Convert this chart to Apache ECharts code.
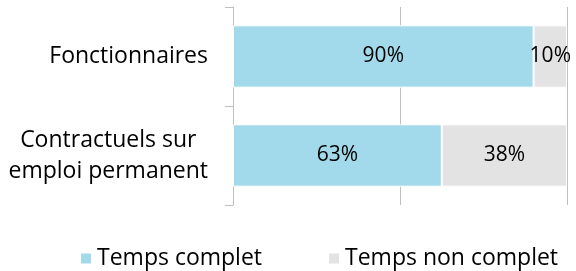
<!DOCTYPE html>
<html>
<head>
<meta charset="utf-8">
<script src="https://cdn.jsdelivr.net/npm/echarts@6/dist/echarts.min.js"></script>
<style>
  html, body { margin: 0; padding: 0; background: #fff; }
  #chart { width: 576px; height: 271px; }
</style>
</head>
<body>
<div id="chart"></div>
<script>
const categories = ['Contractuels sur\nemploi permanent', 'Fonctionnaires'];
const tempsComplet = [62.5, 90];
const tempsNonComplet = [37.5, 10];
const seriesNames = ['Temps complet', 'Temps non complet'];

const font = '"Open Sans", sans-serif';
const chart = echarts.init(document.getElementById('chart'));

const label = {
  show: true,
  position: 'inside',
  color: '#000',
  fontFamily: font,
  fontSize: 21,
  formatter: p => Math.round(p.value) + '%'
};

chart.setOption({
  animation: false,
  grid: { left: 233, right: 9, top: 7, bottom: 66, containLabel: false },
  xAxis: {
    type: 'value',
    min: 0,
    max: 100,
    interval: 50,
    axisLabel: { show: false },
    axisLine: { show: false },
    axisTick: { show: false },
    splitLine: { lineStyle: { color: '#c0c0c0', width: 1 } }
  },
  yAxis: {
    type: 'category',
    data: categories,
    axisLine: { show: true, lineStyle: { color: '#c0c0c0', width: 1 } },
    axisTick: { show: true, length: 8, lineStyle: { color: '#c0c0c0' } },
    axisLabel: {
      margin: 25,
      align: 'right',
      // lines centred inside the right-aligned block
      formatter: v => v.split('\n').map(s => '{c|' + s + '}').join('\n'),
      rich: {
        c: {
          align: 'center',
          color: '#000',
          fontFamily: font,
          fontSize: 23,
          lineHeight: 31
        }
      }
    }
  },
  legend: {
    data: seriesNames,
    top: 242,
    left: 74,
    itemWidth: 12,
    itemHeight: 12,
    itemGap: 65,
    icon: 'rect',
    textStyle: { color: '#000', fontFamily: font, fontSize: 23 }
  },
  series: [
    {
      name: seriesNames[0],
      type: 'bar',
      stack: 'total',
      barWidth: '63%',
      data: tempsComplet,
      itemStyle: { color: '#a3daeb', borderColor: '#fff', borderWidth: 1 },
      label: label
    },
    {
      name: seriesNames[1],
      type: 'bar',
      stack: 'total',
      barWidth: '63%',
      data: tempsNonComplet,
      itemStyle: { color: '#e3e3e3', borderColor: '#fff', borderWidth: 1 },
      label: label
    }
  ]
});
</script>
</body>
</html>
